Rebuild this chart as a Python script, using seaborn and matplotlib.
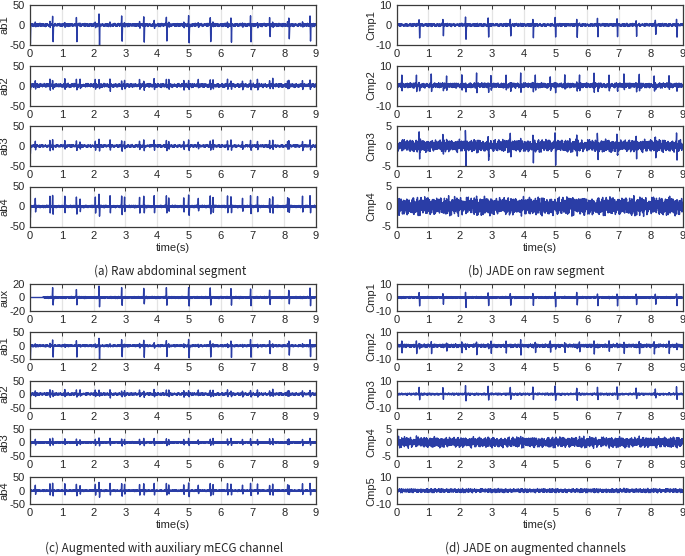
import numpy as np
import pandas as pd
import matplotlib
matplotlib.use("Agg")
import matplotlib.pyplot as plt
from matplotlib import font_manager as fm
import seaborn as sns

# ---------------- data ----------------
fs = 250                      # samples per second used to rebuild the traces
duration = 9.0                # seconds shown on every axis

# maternal QRS times (s) and per-beat relative size (read from ab1 / Cmp1)
maternal_beats = [0.70, 1.45, 2.16, 2.87, 3.57, 4.28, 4.98, 5.66, 6.31, 6.93, 7.53, 8.13, 8.80]
maternal_scale = [0.95, 0.85, 1.10, 0.95, 0.90, 0.90, 1.00, 0.90, 0.90, 0.95, 0.75, 0.75, 0.95]

# fetal QRS times (s) and per-beat relative size (read from Cmp2)
fetal_beats = [0.16, 0.62, 1.09, 1.57, 2.05, 2.51, 2.97, 3.44, 3.90, 4.36,
               4.83, 5.29, 5.75, 6.21, 6.68, 7.15, 7.63, 8.10, 8.57]
fetal_scale = [0.9, 1.1, 1.0, 0.8, 1.0, 1.1, 0.9, 1.0, 1.2, 0.9,
               1.0, 0.8, 1.0, 1.1, 0.9, 1.0, 1.1, 0.9, 1.0]

# QRS shapes (4 ms per sample)
mat_up = [0.1, 0.3, 0.7, 1.0, 0.8, 0.4, 0.1, 0.0, 0.0, 0.0, 0.0, 0.0, 0.0]
mat_down = [0.0, 0.0, 0.0, 0.0, 0.1, 0.4, 0.8, 1.0, 0.7, 0.3, 0.1, 0.0, 0.0]
fet_up = [0.3, 0.8, 1.0, 0.5, 0.1, 0.0, 0.0, 0.0]
fet_down = [0.0, 0.0, 0.1, 0.5, 1.0, 0.7, 0.2, 0.0]

noise_a = [0.12, -0.35, 0.58, -0.21, 0.07, 0.44, -0.62, 0.18, -0.09, 0.71, -0.48, 0.26,
           -0.15, 0.39, -0.73, 0.05, 0.52, -0.28, 0.33, -0.57, 0.14, 0.66, -0.41, -0.08,
           0.29, -0.19, 0.47, -0.66, 0.22, 0.03, -0.37, 0.81, -0.25, 0.11, -0.52, 0.36,
           -0.04, 0.59, -0.31, 0.17, -0.69, 0.42, -0.13, 0.24, -0.46, 0.63, -0.22]
noise_b = [-0.40, 0.25, 0.60, -0.15, -0.70, 0.35, 0.10, -0.50, 0.80, -0.30, 0.05,
           0.45, -0.65, 0.20, -0.10, 0.55, -0.35, 0.70, -0.20, -0.55, 0.30, 0.15,
           -0.75, 0.40, -0.05, 0.65, -0.45, 0.10, 0.50, -0.25, 0.35]

# channels: (maternal up, maternal down, fetal up, fetal down, noise, start spike, onset s)
panel_a_names = ["ab1", "ab2", "ab3", "ab4"]
panel_a_lims = [50, 50, 50, 50]
panel_a_params = [(22, 44, 7, 6, 5.0, -45, 0.0),
                  (13, 9, 15, 11, 6.0, -12, 0.0),
                  (15, 12, 13, 10, 4.0, -20, 0.0),
                  (28, 20, 25, 17, 4.0, -28, 0.0)]

panel_b_names = ["Cmp1", "Cmp2", "Cmp3", "Cmp4"]
panel_b_lims = [10, 10, 5, 5]
panel_b_params = [(3.2, 6.5, 0.4, 0.4, 0.9, -7, 0.0),
                  (1.0, 3.0, 5.5, 3.0, 1.6, 4, 0.0),
                  (3.0, 3.5, 0.5, 0.5, 1.9, 5, 0.0),
                  (0.0, 0.0, 0.6, 0.6, 2.8, 2, 0.0)]

panel_c_names = ["aux", "ab1", "ab2", "ab3", "ab4"]
panel_c_lims = [20, 50, 50, 50, 50]
panel_c_params = [(15, 12, 0, 0, 2.0, 0, 0.42)] + panel_a_params

panel_d_names = ["Cmp1", "Cmp2", "Cmp3", "Cmp4", "Cmp5"]
panel_d_lims = [10, 10, 10, 5, 10]
panel_d_params = [(3.2, 6.5, 0.4, 0.4, 0.9, 3, 0.0),
                  (0.8, 2.0, 3.5, 6.0, 1.6, 4, 0.0),
                  (5.5, 4.5, 0.4, 0.4, 0.9, 0, 0.0),
                  (0.0, 0.0, 0.5, 0.5, 2.4, 4, 0.0),
                  (0.0, 0.0, 0.4, 0.4, 1.8, 6, 0.0)]

captions = ["(a) Raw abdominal segment", "(b) JADE on raw segment",
            "(c) Augmented with auxiliary mECG channel", "(d) JADE on augmented channels"]
x_ticks = [0, 1, 2, 3, 4, 5, 6, 7, 8, 9]

# ---------------- build the traces ----------------
t = np.arange(int(duration * fs) + 1) / fs
n = len(t)
na, nb = np.array(noise_a), np.array(noise_b)


def make_trace(params, key):
    mu, md, fu, fd, noise, start, onset = params
    idx = np.arange(n)
    sig = noise * (0.7 * na[(idx + 13 * key) % len(na)] + 0.5 * nb[(3 * idx + 7 * key) % len(nb)])
    for bt, s in zip(maternal_beats, maternal_scale):
        i0 = int(round(bt * fs))
        shape = s * (mu * np.array(mat_up) - md * np.array(mat_down))
        sig[i0:i0 + len(shape)] += shape[: max(0, n - i0)]
    for bt, s in zip(fetal_beats, fetal_scale):
        i0 = int(round(bt * fs))
        shape = s * (fu * np.array(fet_up) - fd * np.array(fet_down))
        sig[i0:i0 + len(shape)] += shape[: max(0, n - i0)]
    if start:
        sig[1:6] += np.array([0.3, 0.8, 1.0, 0.6, 0.2]) * start
    if onset > 0:
        sig[t < onset] = 0.0
    return sig


# ---------------- figure ----------------
W, H = 685, 556
sns.set_style("white")

# pick the regular (not narrow) Liberation Sans face
tick_family = "Liberation Sans"
for f in fm.fontManager.ttflist:
    if f.fname.endswith("LiberationSans-Regular.ttf"):
        tick_family = f.name
        break
plt.rcParams["font.family"] = [tick_family, "DejaVu Sans"]
plt.rcParams["axes.unicode_minus"] = False
fig = plt.figure(figsize=(W / 100, H / 100), dpi=100)

BLUE = "#2a3da6"
EDGE = "#3a3a3a"
TXT = "#262626"

left_x, right_x, ax_w = 30, 396.5, 286
top_tops, top_h = [5, 65.5, 126, 186.5], 40
bot_tops, bot_h = [284, 332.3, 380.6, 429, 477.2], 27


def draw_panel(x0, tops, h, names, lims, params, keys):
    axes = []
    for top, name, lim, p, key in zip(tops, names, lims, params, keys):
        ax = fig.add_axes([x0 / W, 1 - (top + h) / H, ax_w / W, h / H])
        df = pd.DataFrame({"t": t, "v": make_trace(p, key)})
        sns.lineplot(data=df, x="t", y="v", ax=ax, color=BLUE, linewidth=1.0,
                     estimator=None, sort=False, errorbar=None)
        ax.set_xlim(0, 9)
        ax.set_ylim(-lim, lim)
        ax.set_xticks(x_ticks)
        ax.set_yticks([-lim, 0, lim])
        ax.grid(axis="x", color="#e4e4e4", linewidth=0.9)
        ax.set_axisbelow(True)
        ax.tick_params(direction="in", top=True, right=True, length=3, width=0.7,
                       color=EDGE, labelcolor=TXT, labelsize=8, pad=3)
        ax.tick_params(axis="y", pad=3.5)
        for sp in ax.spines.values():
            sp.set_color(EDGE)
            sp.set_linewidth(0.9)
        ax.set_ylabel(name, fontsize=8, color=TXT)
        ax.yaxis.set_label_coords(-20.5 / ax_w, 0.5)
        ax.set_xlabel("")
        axes.append(ax)
    axes[-1].set_xlabel("time(s)", fontsize=8, color=TXT, labelpad=1.5)
    return axes


draw_panel(left_x, top_tops, top_h, panel_a_names, panel_a_lims, panel_a_params, [0, 1, 2, 3])
draw_panel(right_x, top_tops, top_h, panel_b_names, panel_b_lims, panel_b_params, [4, 5, 6, 7])
draw_panel(left_x, bot_tops, bot_h, panel_c_names, panel_c_lims, panel_c_params, [8, 0, 1, 2, 3])
draw_panel(right_x, bot_tops, bot_h, panel_d_names, panel_d_lims, panel_d_params, [9, 10, 11, 12, 13])

cap_font = ["Noto Sans CJK KR", "DejaVu Sans"]
cap_size = 8.4
fig.text(170 / W, 1 - 271.7 / H, captions[0], ha="center", va="center", fontsize=cap_size, family=cap_font)
fig.text(536 / W, 1 - 271.7 / H, captions[1], ha="center", va="center", fontsize=cap_size, family=cap_font)
fig.text(164 / W, 1 - 548 / H, captions[2], ha="center", va="center", fontsize=cap_size, family=cap_font)
fig.text(535 / W, 1 - 548 / H, captions[3], ha="center", va="center", fontsize=cap_size, family=cap_font)

fig.savefig("out.png", dpi=100)
